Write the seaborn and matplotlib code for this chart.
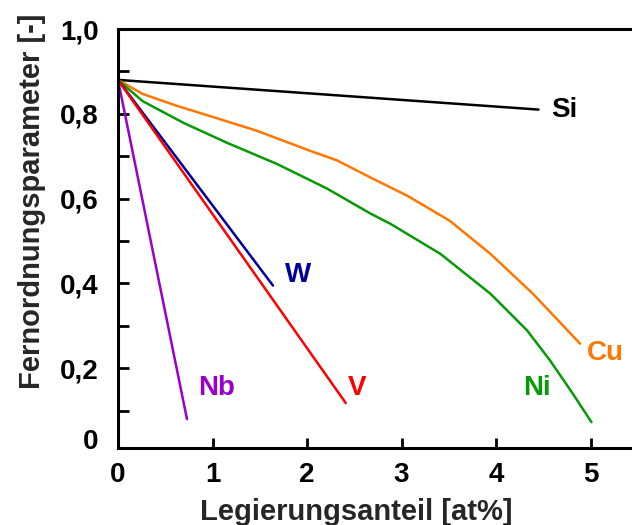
import matplotlib
matplotlib.use("Agg")
import matplotlib.pyplot as plt
import matplotlib.transforms as mtransforms
from matplotlib.ticker import MultipleLocator
import numpy as np
import pandas as pd
import seaborn as sns

# Long-range order parameter vs. alloying content for several elements
si_x = [0.0, 4.45]
si_y = [0.88, 0.81]

cu_x = [0.0, 0.26, 0.62, 0.97, 1.47, 2.03, 2.32, 2.67, 3.06, 3.51, 3.94, 4.39, 4.89]
cu_y = [0.88, 0.847, 0.819, 0.795, 0.76, 0.713, 0.69, 0.65, 0.607, 0.548, 0.47, 0.376, 0.258]

ni_x = [0.0, 0.26, 0.69, 1.15, 1.68, 2.21, 2.67, 2.88, 3.41, 3.94, 4.33, 4.57, 4.81, 5.01]
ni_y = [0.88, 0.83, 0.779, 0.732, 0.682, 0.624, 0.565, 0.541, 0.47, 0.376, 0.289, 0.219, 0.141, 0.073]

w_x = [0.0, 1.64]
w_y = [0.88, 0.395]

v_x = [0.0, 2.41]
v_y = [0.88, 0.118]

nb_x = [0.0, 0.73]
nb_y = [0.88, 0.08]

elements = ["Si", "Cu", "Ni", "W", "V", "Nb"]
colors = {"Si": "#000000", "Cu": "#FF7700", "Ni": "#079A07",
          "W": "#000099", "V": "#FF0000", "Nb": "#9900CC"}
label_pos = {"Si": (4.58, 0.81), "Cu": (4.96, 0.235), "Ni": (4.29, 0.153),
             "W": (1.77, 0.42), "V": (2.43, 0.153), "Nb": (0.85, 0.154)}

series = {"Si": (si_x, si_y), "Cu": (cu_x, cu_y), "Ni": (ni_x, ni_y),
          "W": (w_x, w_y), "V": (v_x, v_y), "Nb": (nb_x, nb_y)}

frames = []
for name in elements:
    xs, ys = series[name]
    frames.append(pd.DataFrame({"x": xs, "y": ys, "elem": name}))
df = pd.concat(frames, ignore_index=True)

sns.set_style("white")
plt.rcParams["font.family"] = ["Liberation Sans", "DejaVu Sans"]
plt.rcParams["font.weight"] = "bold"

fig = plt.figure(figsize=(6.32, 5.25), dpi=100)
ax = fig.add_axes([118 / 632, 77 / 525, 514 / 632, 419 / 525])

sns.lineplot(data=df, x="x", y="y", hue="elem", units="elem", estimator=None,
             sort=False, palette=colors, linewidth=1.8, legend=False, ax=ax)

for name in elements:
    lx, ly = label_pos[name]
    ax.text(lx, ly, name, color=colors[name], fontsize=20, fontweight="bold",
            ha="left", va="center")

ax.set_xlim(0, 514 / 94.5)
ax.set_ylim(0.012, 1.0)

ax.set_xticks([0, 1, 2, 3, 4, 5])
ax.set_xticklabels(["0", "1", "2", "3", "4", "5"])
ax.set_yticks([0.012, 0.2, 0.4, 0.6, 0.8, 1.0])
ax.set_yticklabels(["0", "0,2", "0,4", "0,6", "0,8", "1,0"])
ax.yaxis.set_minor_locator(MultipleLocator(0.1))

ax.tick_params(axis="both", which="both", direction="in", width=2,
               color="black", labelsize=20, labelcolor="black",
               left=True, bottom=True, top=False, right=False)
ax.tick_params(axis="x", which="major", length=7, pad=10)
ax.tick_params(axis="y", which="major", length=8, pad=14)
ax.tick_params(axis="y", which="minor", length=8)

# lift the "0" label on the y axis slightly
zero_lbl = ax.get_yticklabels()[0]
zero_lbl.set_transform(zero_lbl.get_transform() +
                       mtransforms.ScaledTranslation(0, 9 / 100, fig.dpi_scale_trans))
ax.yaxis.get_major_ticks()[0].tick1line.set_visible(False)
ax.xaxis.get_major_ticks()[0].tick1line.set_visible(False)

for side in ["left", "top", "bottom"]:
    ax.spines[side].set_linewidth(2.2)
    ax.spines[side].set_color("black")
ax.spines["right"].set_visible(False)

ax.set_xlabel("Legierungsanteil [at%]", fontsize=21, fontweight="bold", va="center")
ax.set_ylabel("Fernordnungsparameter [-]", fontsize=21, fontweight="bold", va="center")
ax.xaxis.set_label_coords(0.463, -0.153)
ax.yaxis.set_label_coords(-0.167, 0.589)

fig.savefig("out.png", dpi=100)
